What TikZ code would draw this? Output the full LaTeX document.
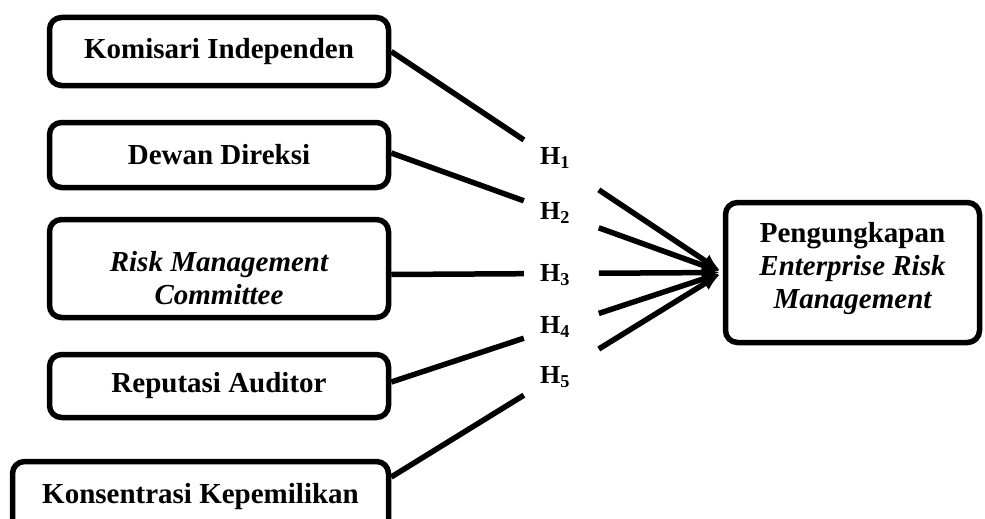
\documentclass[tikz,border=0pt]{standalone}
\usepackage{fontspec}
\setmainfont{Liberation Serif}
\usetikzlibrary{arrows.meta,calc}
\tikzset{
  varbox/.style={draw,line width=5.5pt,rounded corners=12pt,align=center,inner sep=0pt,
    font=\bfseries\fontsize{29}{33}\selectfont},
  hlabel/.style={inner sep=0pt,font=\bfseries\fontsize{26}{28}\selectfont},
  link/.style={line width=5.5pt},
  linkarrow/.style={line width=5.5pt,shorten >=3pt,-{Latex[length=18pt,width=15pt]}}
}
\begin{document}
\begin{tikzpicture}[x=1pt,y=-1pt,line join=round]
	\useasboundingbox (0,0) rectangle (985,519);
	\clip (0,0) rectangle (985,519);
	% variabel independen
	\node[varbox,minimum width=339pt,minimum height=68pt] (kom) at (219,51.5) {Komisari Independen};
	\node[varbox,minimum width=339pt,minimum height=65pt] (dew) at (219,155) {Dewan Direksi};
	\node[varbox,minimum width=339pt,minimum height=98pt] (rmc) at (219,268.5) {\rule{0pt}{40pt}\itshape Risk Management\\\itshape Committee};
	\node[varbox,minimum width=339pt,minimum height=63pt] (rep) at (219,386) {Reputasi Auditor};
	\node[varbox,minimum width=376pt,minimum height=71pt] (kon) at (200.5,497) {Konsentrasi Kepemilikan};
	% variabel dependen
	\node[varbox,minimum width=254pt,minimum height=140pt] (erm) at (852.5,272.5) {Pengungkapan\\\itshape Enterprise Risk\\\itshape Management\rule[-14pt]{0pt}{0pt}};
	% hipotesis
	\node[hlabel] (h1) at (555,158) {H\textsubscript{1}};
	\node[hlabel] (h2) at (555,213) {H\textsubscript{2}};
	\node[hlabel] (h3) at (555,275) {H\textsubscript{3}};
	\node[hlabel] (h4) at (555,327) {H\textsubscript{4}};
	\node[hlabel] (h5) at (555,377) {H\textsubscript{5}};
	% titik awal garis
	\coordinate (s1) at ([yshift=0pt]kom.east);
	\coordinate (s2) at ([yshift=2pt]dew.east);
	\coordinate (s3) at ([yshift=-6pt]rmc.east);
	\coordinate (s4) at ([yshift=4pt]rep.east);
	\coordinate (s5) at ([yshift=20pt]kon.east);
	\foreach \s in {s1,s2,s3,s4,s5}{
		\draw[link] (\s) -- ($(\s)!0.4!(erm.west)$);
		\draw[linkarrow] ($(\s)!0.626!(erm.west)$) -- (erm.west);
	}
\end{tikzpicture}
\end{document}
